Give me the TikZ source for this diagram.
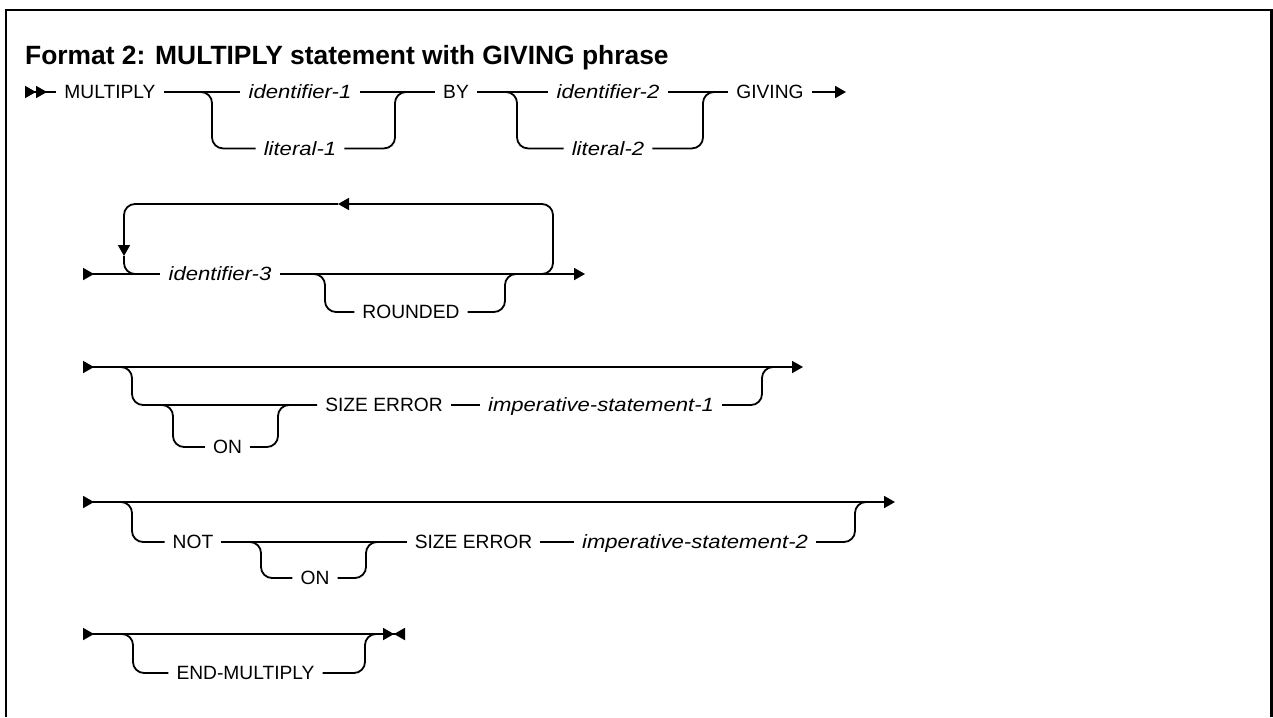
\documentclass[tikz,border=0pt]{standalone}
\usepackage{fontspec}
\setmainfont{Liberation Sans}[ItalicFeatures={FakeStretch=1.15}]
\usetikzlibrary{arrows.meta,positioning}
\tikzset{
  >={Triangle[length=11pt,width=12pt]},
  railhead/.tip={Triangle[length=11pt,width=12pt]},
  railtail/.tip={Triangle[reversed,length=11pt,width=12pt]}
}

\begin{document}
\begin{tikzpicture}[
    x=1pt, y=-1pt,
    rail/.style={line width=1.8pt, rounded corners=11pt},
    kw/.style={font=\fontsize{19.2}{23}\selectfont, inner sep=0pt, inner xsep=8pt, text height=13.75pt, text depth=0pt},
    var/.style={kw, font=\fontsize{19.2}{23}\selectfont\itshape},
    caption/.style={font=\fontsize{26.4}{31}\selectfont\bfseries, inner sep=0pt, anchor=base west},
    frame/.style={line width=2.4pt}
  ]
  \useasboundingbox (0,0) rectangle (1273,717);
  \draw[frame] (6,717) |- (1271.5,10) -- (1271.5,717);
  \node[caption] (title) at (25,64) {Format 2: MULTIPLY statement with GIVING phrase};

  % row 1
  \coordinate (r1s) at (25,92);
  \node[kw] (mult) at (110,92) {MULTIPLY};
  \node[var] (id1) at (300,92) {identifier-1};
  \node[var, below=42.25pt of id1] (lit1) {literal-1};
  \node[kw] (by) at (456,92) {BY};
  \node[var] (id2) at (608,92) {identifier-2};
  \node[var, below=42.25pt of id2] (lit2) {literal-2};
  \node[kw] (giving) at (770,92) {GIVING};
  \coordinate (r1e) at (846,92);
  \coordinate (b1l) at (212,92); \coordinate (b1r) at (395,92);
  \coordinate (b2l) at (517,92); \coordinate (b2r) at (703,92);

  \draw[rail, {railtail[] railtail[]}-] (r1s) -- (mult);
  \draw[rail] (mult) -- (id1);
  \draw[rail] (id1) -- (by);
  \draw[rail] (by) -- (id2);
  \draw[rail] (id2) -- (giving);
  \draw[rail, ->] (giving) -- (r1e);
  \draw[rail] ([xshift=-11pt]b1l) -| (b1l |- lit1) -- (lit1);
  \draw[rail] (lit1) -| (b1r) -- ([xshift=11pt]b1r);
  \draw[rail] ([xshift=-11pt]b2l) -| (b2l |- lit2) -- (lit2);
  \draw[rail] (lit2) -| (b2r) -- ([xshift=11pt]b2r);

  % row 2
  \coordinate (r2s) at (83,274);
  \node[var] (id3) at (220,274) {identifier-3};
  \node[kw] (rnd) at (411,312) {ROUNDED};
  \coordinate (r2e) at (585,274);
  \coordinate (b3l) at (325,274); \coordinate (b3r) at (505,274);
  \coordinate (lpL) at (124,274); \coordinate (lpR) at (553,274);
  \coordinate (lpT) at (338,204); \coordinate (lpD) at (124,256);

  \draw[rail, {railtail[]}-] (r2s) -- (id3);
  \draw[rail, ->] (id3) -- (r2e);
  \draw[rail] ([xshift=-11pt]b3l) -| (b3l |- rnd) -- (rnd);
  \draw[rail] (rnd) -| (b3r) -- ([xshift=11pt]b3r);
  % repeat loop
  \draw[rail, ->] ([xshift=-11pt]lpR) -| (lpR |- lpT) -- (lpT);
  \draw[rail, ->] (lpT) -| (lpD);
  \draw[rail] (lpD) |- ([xshift=11pt]lpL);

  % row 3
  \coordinate (r3s) at (83,367); \coordinate (r3e) at (803,367);
  \coordinate (b4l) at (132,367); \coordinate (b4r) at (762,367);
  \node[kw] (size1) at (384,405) {SIZE ERROR};
  \node[var] (imp1) at (601,405) {imperative-statement-1};
  \node[kw] (on1) at (227.5,447) {ON};
  \coordinate (b5l) at (173,405); \coordinate (b5r) at (278,405);

  \draw[rail, {railtail[]}->] (r3s) -- (r3e);
  \draw[rail] ([xshift=-11pt]b4l) -| (b4l |- size1) -- (size1);
  \draw[rail] (size1) -- (imp1);
  \draw[rail] (imp1) -| (b4r) -- ([xshift=11pt]b4r);
  \draw[rail] ([xshift=-11pt]b5l) -| (b5l |- on1) -- (on1);
  \draw[rail] (on1) -| (b5r) -- ([xshift=11pt]b5r);

  % row 4
  \coordinate (r4s) at (83,502); \coordinate (r4e) at (895,502);
  \coordinate (b6l) at (132,502); \coordinate (b6r) at (855,502);
  \node[kw] (notkw) at (193,542) {NOT};
  \node[kw] (size2) at (473.5,542) {SIZE ERROR};
  \node[var] (imp2) at (695,542) {imperative-statement-2};
  \node[kw] (on2) at (315,578) {ON};
  \coordinate (b7l) at (261,542); \coordinate (b7r) at (366,542);

  \draw[rail, {railtail[]}->] (r4s) -- (r4e);
  \draw[rail] ([xshift=-11pt]b6l) -| (b6l |- notkw) -- (notkw);
  \draw[rail] (notkw) -- (size2);
  \draw[rail] (size2) -- (imp2);
  \draw[rail] (imp2) -| (b6r) -- ([xshift=11pt]b6r);
  \draw[rail] ([xshift=-11pt]b7l) -| (b7l |- on2) -- (on2);
  \draw[rail] (on2) -| (b7r) -- ([xshift=11pt]b7r);

  % row 5
  \coordinate (r5s) at (83,634); \coordinate (r5e) at (405,634);
  \coordinate (b8l) at (133,634); \coordinate (b8r) at (365,634);
  \node[kw] (endm) at (245.5,673) {END-MULTIPLY};

  \draw[rail, {railtail[]}-{railhead[] railtail[]}] (r5s) -- (r5e);
  \draw[rail] ([xshift=-11pt]b8l) -| (b8l |- endm) -- (endm);
  \draw[rail] (endm) -| (b8r) -- ([xshift=11pt]b8r);
\end{tikzpicture}
\end{document}
